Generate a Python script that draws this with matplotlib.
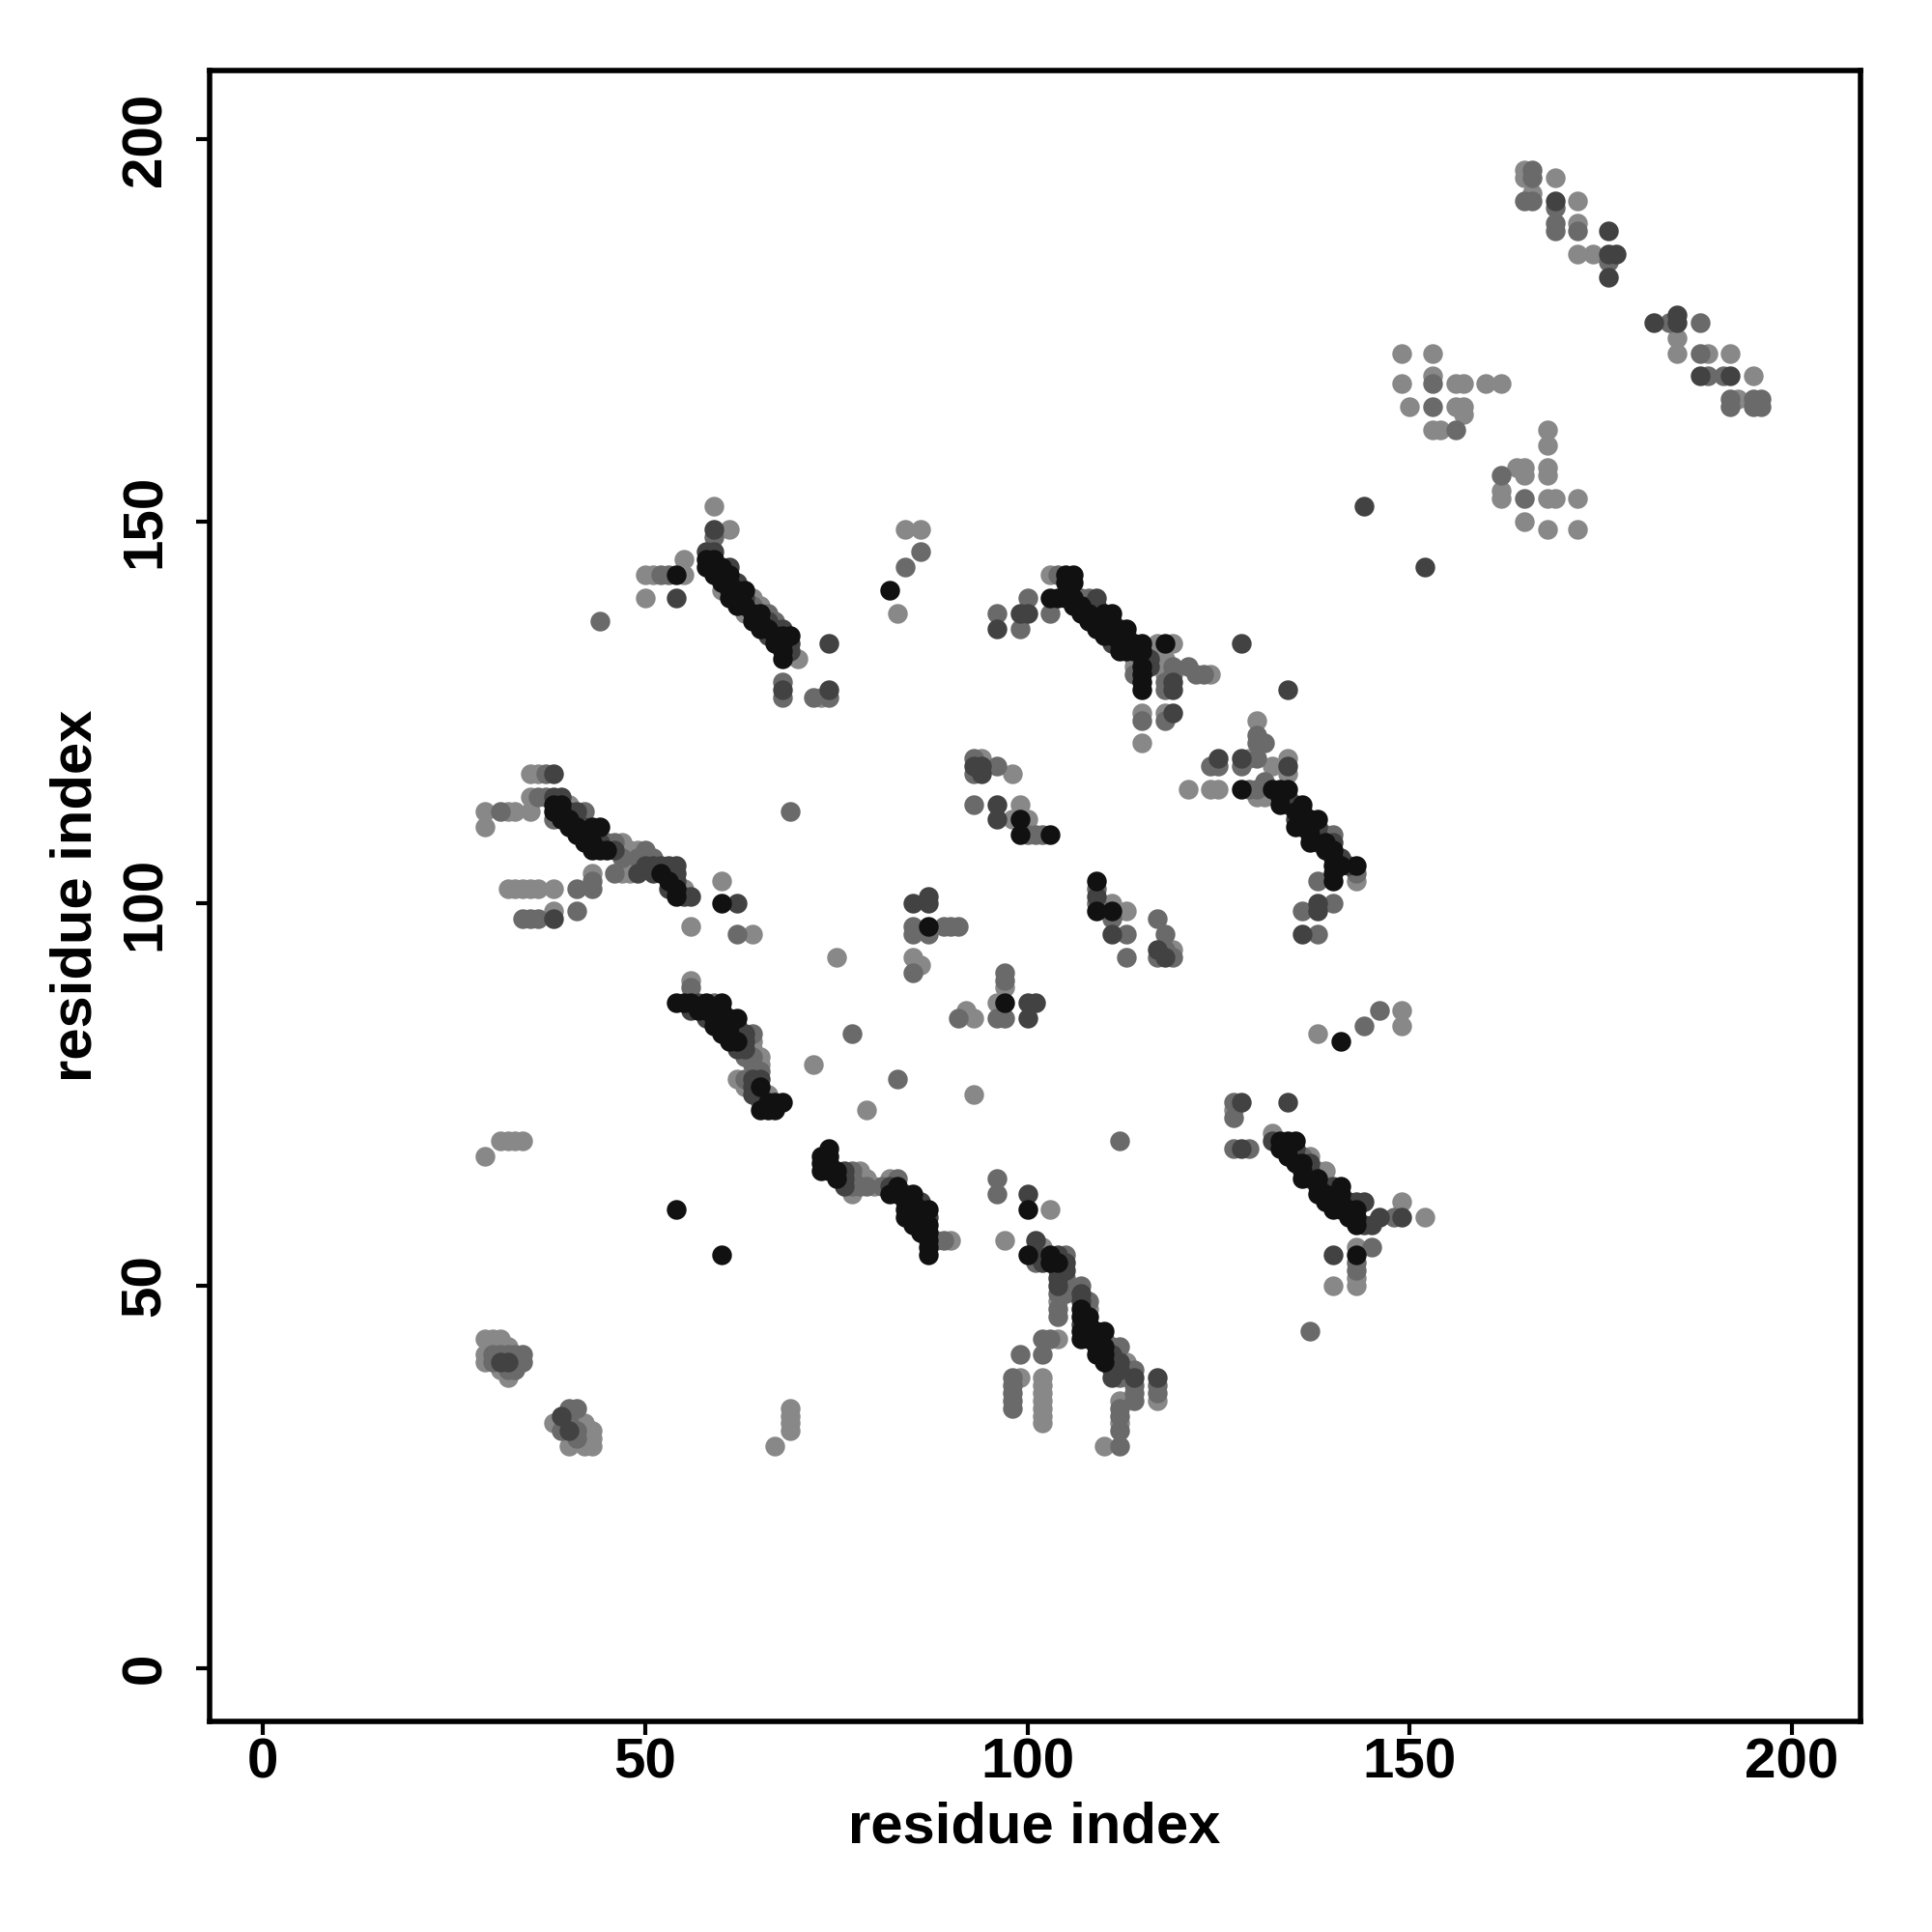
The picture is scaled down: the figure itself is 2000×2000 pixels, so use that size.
"""
Mapa de contatos previsto: pares de resíduos coloridos pela confiança (tons de cinza).
"""
import matplotlib
matplotlib.use("Agg")
import matplotlib.pyplot as plt

# pontos (residuo i, residuo j) agrupados por nivel de cinza
pontos_claros = [
    (165, 196), (165, 195), (166, 193), (169, 195), (172, 192), (172, 189), (172, 185), (174, 185),
    (185, 174), (185, 172), (189, 172), (192, 172), (195, 169), (193, 166),
    (149, 172), (153, 172), (149, 168), (153, 169), (156, 168), (157, 168), (160, 168), (162, 168),
    (150, 165), (156, 165), (157, 165), (157, 164), (153, 162), (154, 162),
    (168, 162), (168, 160), (162, 154), (162, 153), (164, 157), (165, 157), (165, 156), (168, 157),
    (168, 156), (168, 153), (169, 153), (172, 153), (165, 150), (168, 149), (172, 149),
    (35, 117), (36, 117), (35, 114), (40, 113), (29, 112), (32, 112), (33, 112), (35, 112), (29, 110),
    (47, 108), (48, 107), (49, 107), (48, 106), (50, 106), (55, 102), (47, 104), (48, 104), (43, 104),
    (32, 102), (33, 102), (34, 102), (35, 102), (36, 102), (38, 102), (38, 99), (56, 97), (60, 103), (64, 96),
    (59, 152), (61, 149), (55, 145), (50, 143), (51, 143), (55, 143), (50, 140), (60, 141), (64, 140),
    (65, 139), (63, 138), (70, 132), (73, 127),
    (84, 149), (86, 149), (83, 138), (103, 143), (114, 132), (114, 131), (117, 134), (119, 134),
    (118, 132), (118, 131), (118, 130), (124, 130), (115, 125), (118, 125), (115, 121),
    (94, 119), (98, 117), (99, 113), (98, 111), (100, 111), (111, 100), (113, 99), (119, 94),
    (85, 93), (86, 92), (97, 89), (96, 87), (92, 86), (93, 85),
    (121, 115), (124, 115), (125, 115), (129, 119), (132, 118), (134, 119), (134, 117), (130, 124),
    (130, 114), (131, 114), (143, 103),
    (56, 90), (64, 82), (64, 81), (65, 80), (65, 79), (62, 77), (63, 76), (66, 75), (65, 74),
    (78, 65), (79, 64), (77, 62), (80, 63), (82, 64), (90, 56),
    (103, 60), (97, 56), (102, 55), (104, 48), (108, 47), (113, 40), (117, 35), (112, 35), (112, 32),
    (110, 29), (104, 43), (99, 38), (102, 38), (102, 37), (102, 36), (102, 35), (102, 34), (102, 33), (102, 32),
    (132, 70), (137, 67), (138, 65), (139, 65), (149, 61), (152, 59), (127, 73), (138, 83), (149, 86),
    (149, 84), (143, 55), (143, 51), (143, 50), (140, 50),
    (29, 43), (30, 43), (31, 43), (32, 42), (29, 41), (29, 40), (31, 39), (32, 38),
    (38, 32), (41, 32), (40, 29), (42, 32), (42, 29), (43, 31), (43, 30), (43, 29), (42, 30),
    (31, 69), (32, 69), (33, 69), (34, 69), (29, 67), (69, 34), (69, 33), (69, 32), (69, 31), (67, 29),
    (75, 93), (72, 79), (79, 73), (93, 75),
]

pontos_medios = [
    (166, 196), (166, 195), (165, 192), (166, 192), (169, 191), (169, 189), (169, 188), (172, 188),
    (176, 184),
    (184, 176), (188, 176), (188, 172), (189, 169), (191, 169), (192, 166), (192, 165), (195, 166),
    (196, 166), (195, 165), (196, 165),
    (153, 168), (153, 165), (156, 162), (165, 153), (162, 156),
    (37, 117), (36, 114), (37, 114), (31, 112), (42, 112), (38, 111), (41, 111), (45, 108), (46, 108),
    (50, 107), (47, 106), (49, 106), (51, 106), (46, 104), (43, 103), (43, 102), (41, 102),
    (34, 98), (35, 98), (36, 98), (41, 99), (62, 96), (69, 112),
    (59, 148), (52, 143), (53, 143), (44, 137), (64, 139), (66, 138), (67, 137), (68, 129), (68, 127),
    (72, 127), (74, 127),
    (86, 146), (84, 144), (96, 138), (99, 136), (100, 140), (103, 138), (104, 143), (107, 140), (108, 140),
    (114, 130), (119, 131), (119, 130), (118, 129), (118, 128), (121, 131), (122, 130), (123, 130),
    (115, 124), (118, 124),
    (93, 119), (93, 117), (96, 118), (93, 113), (100, 109), (101, 109), (102, 109), (109, 102), (109, 100),
    (111, 98), (113, 96), (113, 93), (117, 98), (118, 96), (118, 94), (117, 93), (119, 93),
    (85, 97), (89, 97), (90, 97), (91, 97), (85, 96), (87, 96), (85, 91), (97, 91), (97, 90),
    (91, 85), (96, 85), (97, 85),
    (124, 118), (125, 118), (128, 118), (130, 119), (130, 122), (131, 121), (130, 121), (129, 115),
    (130, 115), (131, 116), (139, 109), (140, 109), (143, 104), (138, 103), (136, 99), (140, 100), (138, 96),
    (56, 89), (59, 87), (62, 83), (64, 83), (63, 80), (64, 80), (64, 79), (65, 78), (63, 77), (65, 75),
    (77, 65), (77, 64), (77, 63), (78, 63), (79, 63), (81, 63), (83, 64), (88, 56), (89, 56),
    (96, 64), (96, 62), (101, 53), (105, 54), (105, 51), (105, 50), (105, 49), (104, 49), (104, 47),
    (104, 46), (107, 50), (108, 48), (110, 43), (111, 42), (112, 42), (112, 38), (113, 39), (114, 39),
    (114, 37), (114, 36), (114, 35), (117, 37), (117, 36), (112, 34), (112, 33), (112, 31), (112, 29),
    (102, 43), (103, 43), (99, 41), (102, 41), (98, 38), (98, 37), (98, 36), (98, 35), (98, 34),
    (135, 67), (136, 67), (139, 63), (140, 62), (148, 59), (127, 74), (127, 72), (127, 68), (129, 68),
    (144, 84), (146, 86), (145, 55), (143, 53), (143, 52), (137, 44), (112, 69),
    (30, 41), (31, 41), (32, 41), (33, 41), (34, 41), (30, 40), (33, 40), (34, 40), (32, 39), (33, 39),
    (40, 34), (41, 34), (39, 31), (40, 32), (41, 30), (41, 31), (77, 83), (83, 77),
]

pontos_escuros = [
    (169, 192), (176, 188), (176, 185), (177, 185), (176, 182),
    (182, 176), (185, 177), (185, 176), (188, 169), (192, 169),
    (152, 144), (144, 152),
    (38, 117), (38, 114), (39, 114), (40, 112), (41, 112), (42, 110), (43, 109), (44, 108), (46, 107),
    (50, 105), (51, 105), (52, 105), (53, 105), (54, 105), (51, 104), (53, 104), (54, 104), (54, 103),
    (53, 102), (55, 101), (56, 101), (49, 104), (38, 98), (62, 100),
    (59, 149), (58, 146), (59, 146), (59, 144), (61, 144), (62, 142), (63, 140), (66, 137), (67, 136),
    (68, 136), (66, 135), (69, 134), (69, 133), (54, 140), (74, 134), (68, 128), (74, 128),
    (96, 136), (99, 138), (100, 138), (109, 140), (108, 139), (109, 139), (109, 138), (110, 137),
    (111, 137), (111, 136), (112, 135), (113, 135), (111, 134), (113, 134), (115, 132), (116, 132),
    (116, 131), (119, 129), (119, 128), (119, 125), (128, 134),
    (93, 118), (94, 118), (94, 117), (96, 113), (96, 111), (109, 101), (111, 96), (117, 94), (118, 93),
    (85, 100), (87, 101), (87, 100), (100, 87), (101, 87), (100, 85),
    (125, 119), (128, 119), (134, 118), (134, 128), (134, 114), (134, 113), (135, 113), (135, 111),
    (136, 111), (138, 110), (138, 109), (138, 108), (140, 108), (141, 106), (142, 105), (138, 100),
    (138, 99), (136, 96),
    (57, 87), (56, 86), (59, 86), (58, 85), (60, 85), (62, 84), (63, 83), (63, 82), (62, 81), (63, 81),
    (64, 77), (65, 77), (64, 76), (64, 75),
    (76, 65), (76, 64), (76, 63), (82, 63), (84, 62), (86, 61), (86, 59), (87, 59),
    (100, 62), (101, 56), (101, 54), (102, 53), (104, 54), (105, 53), (104, 52), (105, 52), (104, 51),
    (104, 50), (107, 49), (107, 48), (107, 45), (109, 43), (111, 41), (111, 40), (112, 40), (111, 39),
    (112, 39), (111, 38), (114, 38), (117, 38),
    (132, 69), (135, 68), (137, 66), (137, 65), (137, 64), (140, 63), (142, 61), (143, 61), (144, 61),
    (144, 58), (145, 58), (146, 59), (149, 59), (128, 74), (134, 74), (128, 68), (140, 54),
    (31, 40), (32, 40), (39, 33), (40, 31),
]

pontos_pretos = [
    (38, 113), (39, 113), (38, 112), (39, 112), (39, 111), (40, 111), (40, 110), (41, 110), (43, 110),
    (44, 110), (41, 109), (42, 109), (42, 108), (43, 108), (43, 107), (44, 107), (45, 107), (52, 104),
    (53, 103), (54, 102), (54, 101), (60, 100),
    (54, 143), (58, 145), (59, 145), (58, 144), (60, 144), (59, 143), (60, 143), (61, 143), (60, 142),
    (61, 142), (61, 141), (62, 141), (63, 141), (61, 140), (62, 140), (62, 139), (63, 139), (64, 138),
    (65, 138), (64, 137), (65, 137), (65, 136), (66, 136), (67, 135), (68, 135), (69, 135), (67, 134),
    (68, 134), (68, 133), (68, 132),
    (82, 141), (105, 143), (106, 143), (105, 142), (106, 142), (103, 140), (104, 140), (105, 140),
    (106, 140), (106, 139), (107, 139), (107, 138), (108, 138), (110, 138), (111, 138), (108, 137),
    (109, 137), (109, 136), (110, 136), (112, 136), (113, 136), (110, 135), (111, 135), (112, 134),
    (114, 134), (115, 134), (112, 133), (113, 133), (114, 133), (115, 133), (115, 131), (115, 130),
    (115, 129), (115, 128), (118, 134),
    (99, 111), (99, 109), (103, 109), (109, 103), (109, 99), (111, 99), (87, 97), (97, 87),
    (128, 115), (132, 115), (133, 115), (134, 115), (133, 114), (133, 113), (136, 113), (135, 112),
    (136, 112), (137, 111), (138, 111), (135, 110), (136, 110), (137, 110), (137, 109), (137, 108),
    (139, 108), (139, 107), (140, 107), (140, 106), (141, 105), (143, 105), (140, 105), (140, 104), (140, 103),
    (54, 87), (55, 87), (56, 87), (58, 87), (60, 87), (57, 86), (58, 86), (60, 86), (59, 85), (61, 85),
    (62, 85), (59, 84), (60, 84), (61, 84), (60, 83), (61, 83), (61, 82), (62, 82), (65, 76), (66, 74),
    (65, 73), (66, 73), (67, 74), (68, 74), (67, 73),
    (74, 68), (73, 67), (74, 67), (73, 66), (74, 66), (73, 65), (74, 65), (75, 65), (75, 64), (82, 62),
    (83, 63), (83, 62), (85, 62), (84, 61), (85, 61), (84, 60), (85, 60), (86, 60), (87, 60), (84, 59),
    (85, 59), (85, 58), (86, 58), (87, 58), (86, 57), (87, 57), (87, 56), (87, 55), (87, 54),
    (100, 60), (100, 54), (103, 54), (103, 53), (104, 53), (107, 47), (107, 46), (108, 46), (108, 45),
    (107, 44), (108, 44), (109, 44), (110, 44), (107, 43), (108, 43), (109, 42), (110, 42), (109, 41),
    (110, 41), (110, 40),
    (133, 69), (134, 69), (135, 69), (133, 68), (134, 68), (134, 67), (135, 66), (136, 66), (136, 65),
    (136, 64), (138, 64), (138, 63), (141, 63), (138, 62), (139, 62), (141, 62), (139, 61), (140, 61),
    (141, 61), (140, 60), (141, 60), (142, 60), (143, 60), (142, 59), (143, 59), (143, 58), (141, 82), (143, 54),
    (54, 60), (60, 54),
]

niveis = [
    (pontos_claros, "#888888"),
    (pontos_medios, "#6a6a6a"),
    (pontos_escuros, "#424242"),
    (pontos_pretos, "#111111"),
]

fonte = {"family": "Liberation Sans", "weight": "bold"}

fig = plt.figure(figsize=(10, 10), dpi=200)
ax = fig.add_axes([0.1085, 0.109, 0.963 - 0.1085, 0.9635 - 0.109])

for pontos, cor in niveis:
    xs = [p[0] for p in pontos]
    ys = [p[1] for p in pontos]
    ax.scatter(xs, ys, s=54, c=cor, linewidths=0, zorder=2)

ax.set_xlim(-7, 209)
ax.set_ylim(-7, 209)
ax.set_xticks([0, 50, 100, 150, 200])
ax.set_yticks([0, 50, 100, 150, 200])
for lado in ax.spines.values():
    lado.set_linewidth(2.0)
ax.tick_params(direction="out", length=5, width=1.5, labelsize=21)
ax.tick_params(axis="x", pad=1)
ax.tick_params(axis="y", pad=9)
for rotulo in ax.get_xticklabels():
    rotulo.set_fontfamily("Liberation Sans")
    rotulo.set_fontweight("bold")
for rotulo in ax.get_yticklabels():
    rotulo.set_fontfamily("Liberation Sans")
    rotulo.set_fontweight("bold")
    rotulo.set_rotation(90)
    rotulo.set_verticalalignment("center")

fig.text(0.5355, 1 - 1892 / 2000, "residue index", ha="center", va="center", fontsize=21.5, **fonte)
fig.text(0.0395, 1 - 927 / 2000, "residue index", ha="center", va="center", rotation=90, fontsize=21.5, **fonte)

plt.savefig("out.png", dpi=200)
